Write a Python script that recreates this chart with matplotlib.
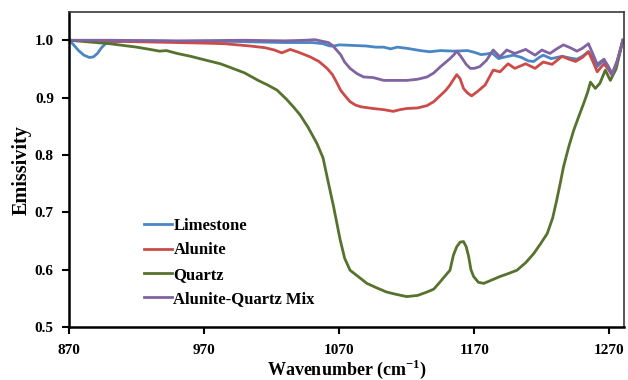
import matplotlib
matplotlib.use("Agg")
import matplotlib.pyplot as plt

# ---------------- data ----------------
lime_x = [870, 873, 877, 881, 885, 888, 891, 894, 897, 900, 910, 930, 950, 970, 990, 1010, 1030, 1050,
          1058, 1063, 1066, 1070, 1080, 1090, 1097, 1103, 1108, 1113, 1120, 1130, 1137, 1145, 1155, 1165,
          1170, 1175, 1179, 1183, 1188, 1193, 1199, 1205, 1210, 1214, 1218, 1221, 1227, 1235, 1241, 1246,
          1250, 1254.5, 1258, 1261, 1265.7, 1269, 1272, 1276, 1280]
lime_y = [1.0, 0.993, 0.982, 0.974, 0.970, 0.971, 0.977, 0.987, 0.994, 0.997, 0.998, 0.999, 0.998, 0.998,
          0.998, 0.997, 0.996, 0.996, 0.994, 0.990, 0.990, 0.992, 0.991, 0.990, 0.988, 0.988, 0.985, 0.988,
          0.986, 0.982, 0.980, 0.982, 0.981, 0.982, 0.979, 0.975, 0.976, 0.978, 0.968, 0.971, 0.974, 0.970,
          0.964, 0.963, 0.970, 0.974, 0.968, 0.972, 0.969, 0.967, 0.972, 0.980, 0.968, 0.954, 0.965, 0.955,
          0.942, 0.965, 1.0]

alun_x = [870, 890, 910, 930, 950, 970, 985, 1004, 1015, 1022, 1027.5, 1033.7, 1040, 1048.5, 1055, 1061,
          1065, 1068, 1071, 1074, 1078, 1082, 1086, 1095, 1103, 1110, 1115, 1120, 1128, 1135, 1140, 1145,
          1149, 1152, 1155, 1157, 1159.5, 1162, 1165, 1168, 1172, 1178, 1184, 1189, 1195, 1200, 1208, 1215,
          1221, 1227.6, 1235, 1240, 1245, 1250, 1254.5, 1258, 1261, 1266, 1269, 1272, 1276, 1280]
alun_y = [1.0, 0.999, 0.998, 0.997, 0.996, 0.995, 0.994, 0.990, 0.987, 0.983, 0.978, 0.984, 0.979, 0.971,
          0.963, 0.951, 0.940, 0.927, 0.913, 0.904, 0.893, 0.887, 0.884, 0.881, 0.879, 0.876, 0.879, 0.881,
          0.882, 0.886, 0.893, 0.904, 0.913, 0.922, 0.933, 0.940, 0.933, 0.916, 0.908, 0.903, 0.910, 0.922,
          0.948, 0.945, 0.959, 0.951, 0.959, 0.951, 0.962, 0.958, 0.972, 0.967, 0.963, 0.970, 0.980, 0.962,
          0.945, 0.959, 0.950, 0.939, 0.965, 1.0]

quar_x = [870, 880, 890, 900, 910, 920, 930, 937, 942, 950, 960, 970, 982, 990, 1000, 1010, 1017, 1024,
          1031, 1036, 1041, 1047, 1053.5, 1058, 1061, 1065.8, 1070.7, 1074, 1078, 1084, 1090.5, 1098, 1105,
          1112, 1120, 1128, 1135, 1140, 1144.8, 1148, 1152, 1154.5, 1157, 1159.5, 1162, 1164, 1165.8, 1167.5,
          1169.5, 1173, 1177, 1183, 1189, 1195, 1201.6, 1208, 1214, 1219, 1224, 1228, 1231, 1234, 1236, 1240,
          1243.6, 1247, 1251, 1254, 1256, 1259.6, 1263, 1267, 1270.7, 1275, 1280]
quar_y = [1.0, 0.998, 0.996, 0.994, 0.991, 0.988, 0.984, 0.981, 0.982, 0.977, 0.972, 0.966, 0.959, 0.952,
          0.943, 0.930, 0.922, 0.913, 0.897, 0.884, 0.870, 0.848, 0.820, 0.795, 0.762, 0.710, 0.652, 0.620,
          0.599, 0.588, 0.576, 0.568, 0.561, 0.557, 0.553, 0.555, 0.561, 0.566, 0.579, 0.588, 0.599, 0.625,
          0.640, 0.648, 0.649, 0.640, 0.623, 0.600, 0.588, 0.578, 0.576, 0.582, 0.588, 0.593, 0.599, 0.612,
          0.628, 0.645, 0.663, 0.690, 0.721, 0.755, 0.779, 0.815, 0.843, 0.865, 0.890, 0.910, 0.927, 0.916,
          0.925, 0.948, 0.930, 0.950, 1.0]

mix_x = [870, 900, 950, 1000, 1030, 1045, 1052, 1058, 1062, 1065, 1068, 1071, 1074, 1078, 1083, 1088, 1095,
         1103, 1110, 1120, 1128, 1135, 1140, 1145, 1149, 1152, 1155, 1157, 1160, 1164, 1167, 1170, 1174, 1179,
         1184, 1189, 1194, 1200, 1208, 1215, 1220, 1226, 1231, 1236, 1241, 1246, 1250, 1254.5, 1258, 1261,
         1266, 1269, 1272, 1276, 1280]
mix_y = [1.0, 1.0, 0.999, 1.0, 0.999, 1.0, 1.001, 0.998, 0.996, 0.991, 0.983, 0.975, 0.962, 0.951, 0.942,
         0.936, 0.935, 0.930, 0.930, 0.930, 0.932, 0.936, 0.943, 0.954, 0.962, 0.968, 0.975, 0.981, 0.972,
         0.958, 0.951, 0.951, 0.954, 0.965, 0.983, 0.971, 0.983, 0.977, 0.984, 0.974, 0.983, 0.977, 0.985,
         0.992, 0.987, 0.981, 0.986, 0.994, 0.975, 0.958, 0.967, 0.955, 0.939, 0.965, 1.0]

series_names = ["Limestone", "Alunite", "Quartz", "Alunite-Quartz Mix"]
x_ticks = [870, 970, 1070, 1170, 1270]
y_ticks = [0.5, 0.6, 0.7, 0.8, 0.9, 1.0]

# ---------------- style ----------------
plt.rcParams['font.family'] = ['Liberation Serif', 'DejaVu Serif']
plt.rcParams['font.weight'] = 'bold'
plt.rcParams['mathtext.fontset'] = 'custom'
plt.rcParams['mathtext.rm'] = 'Liberation Serif'
plt.rcParams['mathtext.bf'] = 'Liberation Serif:bold'

colors = ['#4A86C5', '#CC4B48', '#56722C', '#8064A2']

fig = plt.figure(figsize=(6.28, 3.80), dpi=100)
ax = fig.add_axes([0.110, 0.1395, 0.884, 0.8285])

data = [(lime_x, lime_y), (alun_x, alun_y), (quar_x, quar_y), (mix_x, mix_y)]
for (xs, ys), c, name in zip(data, colors, series_names):
    ax.plot(xs, ys, color=c, lw=2.0, label=name, solid_joinstyle='round')

ax.set_xlim(870, 1281)
ax.set_ylim(0.5, 1.049)
ax.set_xticks(x_ticks)
ax.set_yticks(y_ticks)
ax.set_yticklabels([f"{v:.1f}" for v in y_ticks])
ax.tick_params(axis='both', direction='out', length=5, width=1.5, labelsize=11)
ax.tick_params(axis='y', pad=6)
ax.tick_params(axis='x', pad=7)
for lab in ax.get_xticklabels() + ax.get_yticklabels():
    lab.set_fontweight('bold')

for s in ['left', 'bottom']:
    ax.spines[s].set_linewidth(1.8)
    ax.spines[s].set_color('black')
for s in ['top', 'right']:
    ax.spines[s].set_linewidth(1.2)
    ax.spines[s].set_color('#3a3a3a')

ax.set_ylabel("Emissivity", fontsize=14.5, fontweight='bold')
ax.yaxis.set_label_coords(-0.067, 0.5)
ax.set_xlabel(r"Wavenumber (cm$^{\mathbf{-1}}$)", fontsize=13, fontweight='bold', va='bottom')
ax.xaxis.set_label_coords(0.5, -0.170)

leg = ax.legend(loc='upper left', bbox_to_anchor=(0.1225, 0.367), frameon=False,
                prop={'family': 'Liberation Serif', 'weight': 'bold', 'size': 12},
                handlelength=1.7, handletextpad=0.08, labelspacing=0.5, borderaxespad=0)

fig.savefig("out.png", dpi=100)
